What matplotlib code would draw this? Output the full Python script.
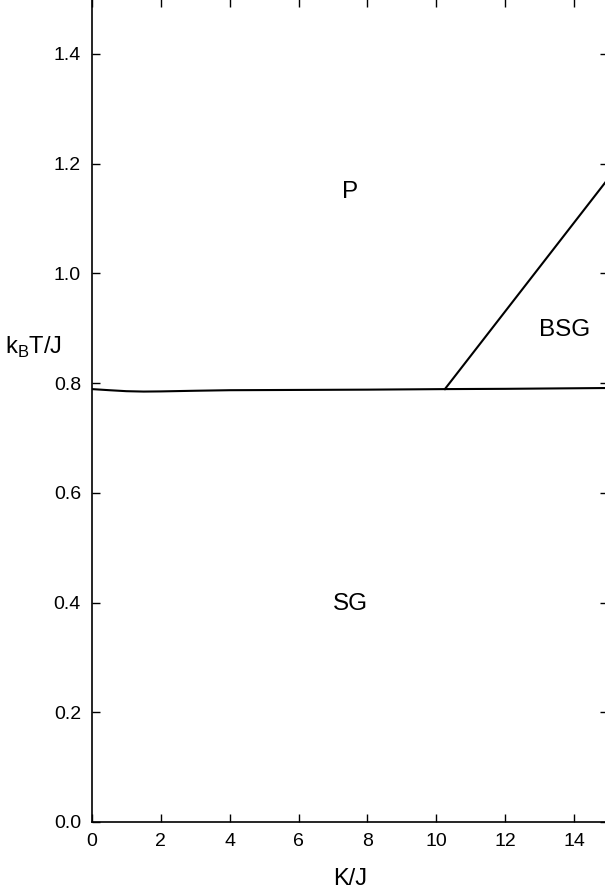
import matplotlib; matplotlib.use("Agg")
import matplotlib.pyplot as plt

plt.rcParams["font.family"] = ["Liberation Sans", "DejaVu Sans"]
plt.rcParams["mathtext.fontset"] = "custom"
plt.rcParams["mathtext.rm"] = "Liberation Sans"

# SG/P boundary
K_sg = [0.0, 0.5, 1.0, 1.5, 2.0, 3.0, 4.0, 6.0, 8.0, 10.25, 12.0, 15.0]
T_sg = [0.789, 0.787, 0.7852, 0.7845, 0.7848, 0.786, 0.787, 0.7875, 0.788, 0.789, 0.7895, 0.791]
# BSG/P boundary
K_bsg = [10.25, 15.0]
T_bsg = [0.789, 1.173]

labels = ["P", "SG", "BSG"]
lab_K = [7.49, 7.52, 13.74]
lab_T = [1.148, 0.397, 0.897]

fig = plt.figure(figsize=(6.05, 8.93), dpi=100)
ax = fig.add_axes([92/605, 71/893, 516.4/605, 823/893])
ax.plot(K_sg, T_sg, "-", color="black", lw=1.5)
ax.plot(K_bsg, T_bsg, "-", color="black", lw=1.5)
for s, x, y in zip(labels, lab_K, lab_T):
    ax.text(x, y, s, ha="center", va="center", fontsize=17.5)

ax.set_xlim(0, 15); ax.set_ylim(0, 1.5)
ax.set_xticks(range(0, 15, 2))
ax.set_yticks([0.0, 0.2, 0.4, 0.6, 0.8, 1.0, 1.2, 1.4])
ax.set_yticklabels([f"{v:.1f}" for v in ax.get_yticks()])
ax.tick_params(direction="in", length=6, width=1, top=True, right=True, labelsize=14, pad=8)
for sp in ax.spines.values(): sp.set_linewidth(1.2)
ax.set_xlabel("K/J", fontsize=17, labelpad=13)
ax.set_ylabel("k$_\\mathregular{B}$T/J", fontsize=17, rotation=0, ha="center", va="center")
ax.yaxis.set_label_coords(-0.114, 0.577)
fig.savefig("out.png", dpi=100)
